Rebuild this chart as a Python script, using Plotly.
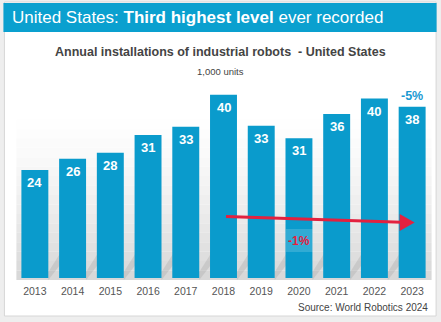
import plotly.graph_objects as go

years = ["2013", "2014", "2015", "2016", "2017", "2018", "2019", "2020", "2021", "2022", "2023"]
installs = [23.7, 26.2, 27.5, 31.4, 33.2, 40.2, 33.4, 30.7, 36.0, 39.4, 37.6]
value_labels = ["24", "26", "28", "31", "33", "40", "33", "31", "36", "40", "38"]

W_FIG, H_FIG = 441, 322
L, R, T, B = 15.6, 431.4, 73.0, 278.0
PW, PH = R - L, B - T


def px(x):
    return (x - L) / PW


def py(y):
    return (B - y) / PH


BLUE = "#0a9bcc"
RED = "#e3213f"
FONT = "Liberation Sans, Arial, sans-serif"

idx = list(range(len(years)))

fig = go.Figure()
fig.add_trace(go.Bar(
    x=idx, y=installs, width=0.714,
    marker=dict(color=BLUE, line=dict(width=0)),
    hoverinfo="skip",
))

shapes = []
# card
shapes.append(dict(type="rect", xref="paper", yref="paper", layer="below",
                   x0=px(4), x1=px(436.5), y0=py(316), y1=py(2),
                   fillcolor="white", line=dict(color="#d6d6d6", width=1)))
# gradient background of plot area
n = 18
y_top, y_bot = 110.0, 280.0
for i in range(n):
    a = y_top + (y_bot - y_top) * i / n
    b = y_top + (y_bot - y_top) * (i + 1) / n
    t = (i + 0.5) / n
    g = int(round(255 - (255 - 214) * t ** 1.5))
    shapes.append(dict(type="rect", xref="paper", yref="paper", layer="below",
                       x0=px(16), x1=px(432), y0=py(b), y1=py(a),
                       fillcolor=f"rgb({g},{g},{g})", line=dict(width=0)))
# faint diagonal shadows behind the bars
step = PW / len(years)
for i in range(len(years) - 1):
    xr = L + step * (i + 0.5) + step * 0.357
    shapes.append(dict(type="path", xref="paper", yref="paper", layer="below",
                       path=(f"M {px(xr)} {py(272)} L {px(xr + 14)} {py(250)} "
                             f"L {px(xr + 14)} {py(262)} L {px(xr)} {py(280)} Z"),
                       fillcolor="rgba(120,120,120,0.18)", line=dict(width=0)))
# banner
shapes.append(dict(type="rect", xref="paper", yref="paper", layer="below",
                   x0=px(3), x1=px(437), y0=py(32), y1=py(3),
                   fillcolor="#0aa0cf", line=dict(width=0)))
# -1% box
shapes.append(dict(type="rect", xref="paper", yref="paper",
                   x0=px(286), x1=px(313), y0=py(252), y1=py(229),
                   fillcolor="rgba(255,255,255,0.16)", line=dict(width=0)))
# arrow
shapes.append(dict(type="line", xref="paper", yref="paper",
                   x0=px(226), y0=py(216.5), x1=px(402), y1=py(222.3),
                   line=dict(color=RED, width=3)))
shapes.append(dict(type="path", xref="paper", yref="paper",
                   path=f"M {px(400)} {py(214)} L {px(415)} {py(222.5)} L {px(400)} {py(231)} Z",
                   fillcolor=RED, line=dict(width=0)))

annotations = []
annotations.append(dict(xref="paper", yref="paper", x=px(10), y=py(17.5),
                        xanchor="left", yanchor="middle", showarrow=False,
                        text="United States: <b>Third highest level</b> ever recorded",
                        font=dict(family=FONT, size=17, color="white")))
annotations.append(dict(xref="paper", yref="paper", x=px(220.5), y=py(52.5),
                        xanchor="center", yanchor="middle", showarrow=False,
                        text="<b>Annual installations of industrial robots  - United States</b>",
                        font=dict(family=FONT, size=12.5, color="#444444")))
annotations.append(dict(xref="paper", yref="paper", x=px(220), y=py(71),
                        xanchor="center", yanchor="middle", showarrow=False,
                        text="1,000 units",
                        font=dict(family=FONT, size=9.5, color="#444444")))
for i, v, lab in zip(idx, installs, value_labels):
    annotations.append(dict(x=i, y=v, xref="x", yref="y", yshift=-12.5,
                            xanchor="center", yanchor="middle", showarrow=False,
                            text=f"<b>{lab}</b>",
                            font=dict(family=FONT, size=13, color="white")))
annotations.append(dict(x=idx[-1], y=installs[-1], xref="x", yref="y", yshift=11,
                        xanchor="center", yanchor="middle", showarrow=False,
                        text="<b>-5%</b>",
                        font=dict(family=FONT, size=12.5, color="#1a9ad2")))
annotations.append(dict(xref="paper", yref="paper", x=px(299.5), y=py(241),
                        xanchor="center", yanchor="middle", showarrow=False,
                        text="<b>-1%</b>",
                        font=dict(family=FONT, size=12, color=RED)))
annotations.append(dict(xref="paper", yref="paper", x=px(430), y=py(307),
                        xanchor="right", yanchor="middle", showarrow=False,
                        text="Source: World Robotics 2024",
                        font=dict(family=FONT, size=10, color="#444444")))

fig.update_layout(
    width=W_FIG, height=H_FIG,
    margin=dict(l=L, r=W_FIG - R, t=T, b=H_FIG - B, pad=0),
    paper_bgcolor="#eeeeee",
    plot_bgcolor="rgba(0,0,0,0)",
    showlegend=False,
    shapes=shapes,
    annotations=annotations,
    xaxis=dict(range=[-0.5, len(years) - 0.5], showgrid=False, zeroline=False,
               showline=False, ticks="", tickmode="array", tickvals=idx,
               ticktext=years, ticklabelstandoff=5,
               tickfont=dict(family=FONT, size=10.5, color="#555555")),
    yaxis=dict(range=[0, 45], visible=False, showgrid=False, zeroline=False),
)

fig.write_html("out.html", config={"displayModeBar": False})
